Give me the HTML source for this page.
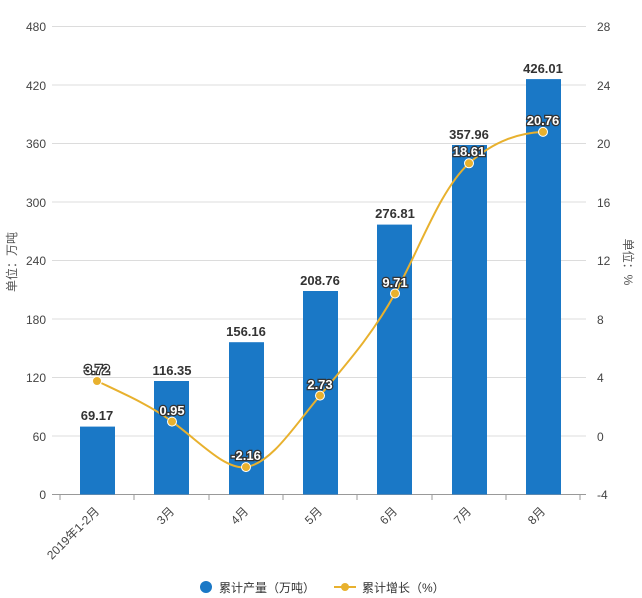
<!DOCTYPE html><html><head><meta charset="utf-8"><style>body{margin:0;background:#fff}svg{display:block}text{font-family:"Liberation Sans","Noto Sans CJK SC",sans-serif}</style></head><body>
<svg width="642" height="598" xmlns="http://www.w3.org/2000/svg">
<g stroke="#dcdcdc" stroke-width="1">
<line x1="52" x2="586" y1="26.5" y2="26.5"/><line x1="52" x2="586" y1="85" y2="85"/><line x1="52" x2="586" y1="143.5" y2="143.5"/><line x1="52" x2="586" y1="202" y2="202"/><line x1="52" x2="586" y1="260.5" y2="260.5"/><line x1="52" x2="586" y1="319" y2="319"/><line x1="52" x2="586" y1="377.5" y2="377.5"/><line x1="52" x2="586" y1="436" y2="436"/>
</g>
<line x1="52" x2="586" y1="494.5" y2="494.5" stroke="#999"/>
<g stroke="#999"><line x1="60" x2="60" y1="495" y2="500"/><line x1="134" x2="134" y1="495" y2="500"/><line x1="209" x2="209" y1="495" y2="500"/><line x1="283" x2="283" y1="495" y2="500"/><line x1="357" x2="357" y1="495" y2="500"/><line x1="432" x2="432" y1="495" y2="500"/><line x1="506" x2="506" y1="495" y2="500"/><line x1="580" x2="580" y1="495" y2="500"/></g>
<g font-size="12" fill="#444" text-anchor="end">
<text x="46" y="31">480</text><text x="46" y="90">420</text><text x="46" y="148">360</text><text x="46" y="207">300</text><text x="46" y="265">240</text><text x="46" y="324">180</text><text x="46" y="382">120</text><text x="46" y="441">60</text><text x="46" y="499">0</text>
</g>
<g font-size="12" fill="#444">
<text x="597" y="31">28</text><text x="597" y="90">24</text><text x="597" y="148">20</text><text x="597" y="207">16</text><text x="597" y="265">12</text><text x="597" y="324">8</text><text x="597" y="382">4</text><text x="597" y="441">0</text><text x="597" y="499">-4</text>
</g>
<text transform="translate(16,262) rotate(-90)" font-size="12" fill="#555" text-anchor="middle">单位：万吨</text>
<text transform="translate(624,262) rotate(90)" font-size="12" fill="#555" text-anchor="middle">单位：%</text>
<g fill="#1a78c6">
<rect x="80" y="426.6" width="35" height="67.9"/><rect x="154" y="381" width="35" height="113.5"/><rect x="229" y="342.2" width="35" height="152.3"/><rect x="303" y="291" width="35" height="203.5"/><rect x="377" y="224.6" width="35" height="269.9"/><rect x="452" y="145" width="35" height="349.5"/><rect x="526" y="79.1" width="35" height="415.4"/>
</g>
<g font-size="13" font-weight="bold" fill="#333" text-anchor="middle">
<text x="97" y="420">69.17</text><text x="172" y="375">116.35</text><text x="246" y="336">156.16</text><text x="320" y="285">208.76</text><text x="395" y="218">276.81</text><text x="469" y="139">357.96</text><text x="543" y="73">426.01</text>
</g>
<path d="M97,381 C120,392 150,405 172,421.6 C200,442 225,470 246,467.1 C272,463 295,425 320,395.6 C348,362 372,335 395,293.5 C420,248 440,190 469,163.3 C495,140 520,133 543,131.9" fill="none" stroke="#e8b12e" stroke-width="2"/>
<g fill="#e8b12e" stroke="#fff" stroke-width="1"><circle cx="97" cy="381" r="4.5"/><circle cx="172" cy="421.6" r="4.5"/><circle cx="246" cy="467.1" r="4.5"/><circle cx="320" cy="395.6" r="4.5"/><circle cx="395" cy="293.5" r="4.5"/><circle cx="469" cy="163.3" r="4.5"/><circle cx="543" cy="131.9" r="4.5"/></g>
<g font-size="13" font-weight="bold" fill="#fff" stroke="#333" stroke-width="2.5" paint-order="stroke" text-anchor="middle">
<text x="97" y="374">3.72</text><text x="172" y="415">0.95</text><text x="246" y="460">-2.16</text><text x="320" y="389">2.73</text><text x="395" y="287">9.71</text><text x="469" y="156">18.61</text><text x="543" y="125">20.76</text>
</g>
<g font-size="12" fill="#444" text-anchor="end">
<text transform="translate(100,512) rotate(-45)">2019年1-2月</text>
<text transform="translate(175,512) rotate(-45)">3月</text>
<text transform="translate(249,512) rotate(-45)">4月</text>
<text transform="translate(323,512) rotate(-45)">5月</text>
<text transform="translate(398,512) rotate(-45)">6月</text>
<text transform="translate(472,512) rotate(-45)">7月</text>
<text transform="translate(546,512) rotate(-45)">8月</text>
</g>
<circle cx="206" cy="587" r="6" fill="#1a78c6"/>
<text x="219" y="592" font-size="12" fill="#333">累计产量（万吨）</text>
<line x1="334" x2="356" y1="587" y2="587" stroke="#e8b12e" stroke-width="2"/>
<circle cx="345" cy="587" r="4" fill="#e8b12e"/>
<text x="362" y="592" font-size="12" fill="#333">累计增长（%）</text>
</svg>
</body></html>
